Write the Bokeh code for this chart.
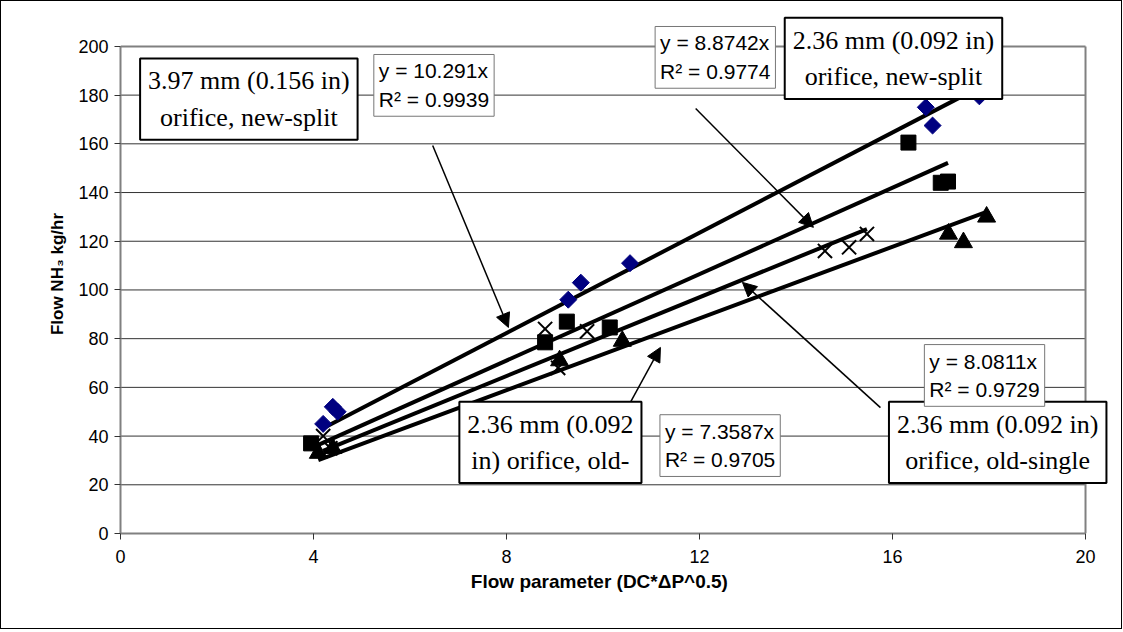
from bokeh.plotting import figure
from bokeh.models import Label, Arrow, NormalHead, Range1d, FixedTicker
from bokeh.embed import file_html
from bokeh.resources import INLINE

# ---- data ----
diamond_x = [4.2, 4.4, 4.5, 9.28, 9.54, 10.56, 16.69, 16.83, 17.8]
diamond_y = [45, 52, 50, 96, 103, 111, 175, 167.5, 179.5]
diamond_slope = 10.291

square_x = [3.95, 8.8, 9.25, 10.14, 16.33, 17.0, 17.15]
square_y = [37, 78.5, 87, 84.6, 160.5, 144, 144.5]
square_slope = 8.8742

cross_x = [4.2, 4.35, 8.8, 9.07, 9.67, 14.6, 15.1, 15.47]
cross_y = [40, 35, 84, 68, 83, 116, 117.5, 123]
cross_slope = 8.0811

tri_x = [4.1, 4.4, 9.1, 10.4, 17.16, 17.47, 17.95]
tri_y = [33, 35, 71, 79, 123, 119.5, 130]
tri_slope = 7.3587

x_ticks = [0, 4, 8, 12, 16, 20]
y_ticks = [0, 20, 40, 60, 80, 100, 120, 140, 160, 180, 200]

eq_texts = ["y = 10.291x\nR\u00b2 = 0.9939", "y = 8.8742x\nR\u00b2 = 0.9774",
            "y = 8.0811x\nR\u00b2 = 0.9729", "y = 7.3587x\nR\u00b2 = 0.9705"]
series_labels = ["3.97 mm (0.156 in)\norifice, new-split",
                 "2.36 mm (0.092 in)\norifice, new-split",
                 "2.36 mm (0.092 in)\norifice, old-single",
                 "2.36 mm (0.092\nin) orifice, old-"]

X_MAX = x_ticks[-1]
Y_MAX = y_ticks[-1]

# frame extends beyond the plot area so that boxes outside it are not clipped
p = figure(frame_width=1000, frame_height=519, output_backend="svg", toolbar_location=None,
           x_range=Range1d(0, 20.725), y_range=Range1d(0, 213.1),
           min_border_left=119, min_border_right=1, min_border_top=13, min_border_bottom=95)
p.styles = {"border": "1px solid black"}
p.background_fill_color = "white"
p.border_fill_color = "white"
p.outline_line_color = None
p.xgrid.visible = False
p.ygrid.visible = False

for ax in (p.xaxis[0], p.yaxis[0]):
    ax.axis_line_color = "#808080"
    ax.axis_line_width = 2
    ax.major_tick_line_color = "#333333"
    ax.major_tick_out = 6
    ax.major_tick_in = 0
    ax.minor_tick_line_color = None
    ax.major_label_text_font = "Liberation Sans"
    ax.major_label_text_font_size = "18px"
    ax.major_label_text_color = "black"
    ax.axis_label_text_font = "Liberation Sans"
    ax.axis_label_text_font_style = "bold"
    ax.axis_label_text_color = "black"

p.xaxis.ticker = FixedTicker(ticks=x_ticks)
p.yaxis.ticker = FixedTicker(ticks=y_ticks)
p.xaxis.bounds = (0, X_MAX)
p.yaxis.bounds = (0, Y_MAX)
# trailing no-break spaces centre the title under the 0-20 plot area
p.xaxis.axis_label = "Flow parameter (DC*\u0394P^0.5)" + "\u00a0" * 8
p.xaxis.axis_label_text_font_size = "19px"
p.xaxis.axis_label_standoff = 5
p.yaxis.axis_label = "Flow NH\u2083 kg/hr"
p.yaxis.axis_label_text_font_size = "17px"
p.yaxis.axis_label_standoff = 8
p.xaxis.major_label_standoff = 10
p.yaxis.major_label_standoff = 6

# horizontal gridlines and plot-area border (top and right)
gy = y_ticks[1:-1]
p.segment(x0=[0] * len(gy), y0=gy, x1=[X_MAX] * len(gy), y1=gy, line_color="#333333", line_width=1)
p.segment(x0=[0, X_MAX], y0=[Y_MAX, 0], x1=[X_MAX, X_MAX], y1=[Y_MAX, Y_MAX],
          line_color="#808080", line_width=2)

# trend lines
def trend(xs, slope):
    x0, x1 = min(xs), max(xs)
    return [x0, x1], [slope * x0, slope * x1]

for xs, s in [(diamond_x, diamond_slope), (square_x, square_slope),
              (cross_x, cross_slope), (tri_x, tri_slope)]:
    lx, ly = trend(xs, s)
    p.line(lx, ly, line_color="black", line_width=4)

# markers
p.scatter(diamond_x, diamond_y, marker="square", angle=0.7854, size=12,
          fill_color="#000080", line_color="#000080")
p.scatter(square_x, square_y, marker="square", size=15, fill_color="black", line_color="black")
p.scatter(cross_x, cross_y, marker="x", size=20, line_color="black", line_width=2)
p.scatter(tri_x, tri_y, marker="triangle", size=18, fill_color="black", line_color="black")

# arrows (data coordinates)
arrows = [((6.47, 159.3), (8.04, 84.6)),
          ((11.92, 174.5), (14.36, 125.7)),
          ((15.75, 51.7), (12.89, 103.1)),
          ((10.42, 48.5), (11.19, 76.4))]
for (xs_, ys_), (xe, ye) in arrows:
    p.add_layout(Arrow(x_start=xs_, y_start=ys_, x_end=xe, y_end=ye, line_width=1.5,
                       line_color="black",
                       end=NormalHead(size=14, fill_color="black", line_color="black")))

# series label boxes (Times)
label_pos = [(2.66, 178.4), (16.02, 195.1), (18.18, 37.4), (8.91, 37.4)]
for txt, (lx, ly) in zip(series_labels, label_pos):
    p.add_layout(Label(x=lx, y=ly, text=txt, text_font="Liberation Serif", text_font_size="26px",
                       text_align="center", text_baseline="middle", text_line_height=1.25,
                       text_color="black", background_fill_color="white",
                       border_line_color="black", border_line_width=2, padding=8))

# equation boxes (Arial)
eq_pos = [(5.25, 184.0), (11.08, 195.5), (16.66, 64.9), (11.18, 36.1)]
for txt, (lx, ly) in zip(eq_texts, eq_pos):
    p.add_layout(Label(x=lx, y=ly, text=txt, text_font="Liberation Sans", text_font_size="21px",
                       text_align="left", text_baseline="middle", text_line_height=1.25,
                       text_color="black", background_fill_color="white",
                       border_line_color="#777777", border_line_width=1, padding=5))

open("out.html", "w").write(file_html(p, INLINE))
